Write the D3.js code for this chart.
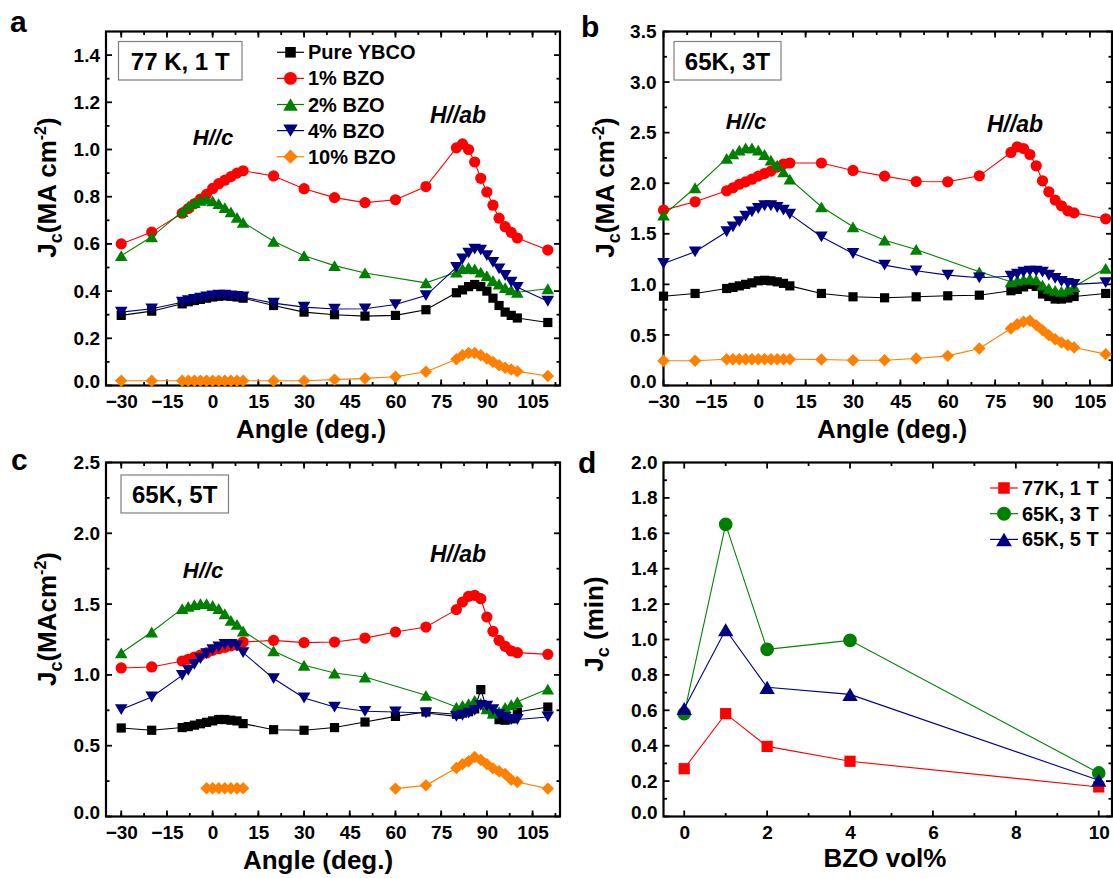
<!DOCTYPE html>
<html><head><meta charset="utf-8">
<script src="https://cdn.jsdelivr.net/npm/d3@7"></script>
<style>
html,body{margin:0;padding:0;background:#fff;}
svg{display:block;}
</style></head>
<body>
<svg id="chart" width="1113" height="878"></svg>
<script>
// ---------------- DATA ----------------
const angles = [-30,-20,-10,-8,-6,-4,-2,0,2,4,6,8,10,20,30,40,50,60,70,80,82,84,86,88,90,92,94,96,98,100,110];
const seriesNames = ["Pure YBCO","1% BZO","2% BZO","4% BZO","10% BZO"];

// panel a: 77 K, 1 T
const aPure = [0.297,0.315,0.346,0.355,0.36,0.365,0.37,0.375,0.378,0.38,0.378,0.375,0.37,0.339,0.311,0.300,0.294,0.297,0.321,0.393,0.405,0.419,0.428,0.419,0.40,0.37,0.339,0.311,0.297,0.286,0.267];
const aBZO1 = [0.60,0.65,0.73,0.75,0.77,0.79,0.81,0.835,0.855,0.87,0.885,0.90,0.91,0.888,0.834,0.796,0.775,0.787,0.843,1.007,1.024,1.000,0.947,0.878,0.820,0.764,0.709,0.673,0.649,0.625,0.574];
const aBZO2 = [0.550,0.630,0.737,0.76,0.775,0.785,0.79,0.782,0.771,0.754,0.736,0.712,0.691,0.611,0.550,0.508,0.477,null,0.435,0.48,0.495,0.50,0.494,0.48,0.465,0.445,0.43,0.415,0.405,0.395,0.41];
const aBZO4 = [0.311,0.325,0.353,0.36,0.365,0.37,0.375,0.38,0.383,0.383,0.38,0.378,0.375,0.349,0.332,0.324,0.325,0.343,0.381,0.50,0.536,0.561,0.578,0.574,0.55,0.522,0.494,0.466,0.438,0.416,0.357];
const aBZO10 = [0.02,0.02,0.02,0.02,0.02,0.02,0.02,0.02,0.02,0.02,0.02,0.02,0.02,0.02,0.02,0.025,0.03,0.037,0.058,0.111,0.128,0.138,0.138,0.128,0.114,0.10,0.086,0.075,0.068,0.06,0.04];

// panel b: 65 K, 3 T
const bPure = [0.883,0.91,0.959,0.97,0.985,1.0,1.015,1.035,1.04,1.035,1.025,1.01,0.985,0.91,0.877,0.867,0.877,0.887,0.893,0.937,0.95,0.975,1.00,0.98,0.905,0.88,0.855,0.855,0.865,0.88,0.91];
const bBZO1 = [1.734,1.816,1.925,1.955,1.99,2.014,2.04,2.07,2.096,2.12,2.16,2.19,2.20,2.20,2.126,2.07,2.017,2.014,2.073,2.304,2.36,2.343,2.284,2.172,2.024,1.915,1.833,1.777,1.727,1.707,1.648];
const bBZO2 = [1.684,1.955,2.245,2.29,2.327,2.35,2.35,2.327,2.284,2.228,2.179,2.113,2.04,1.767,1.569,1.437,1.345,null,1.124,1.026,1.04,1.05,1.058,1.045,0.993,0.96,0.94,0.93,0.95,0.977,1.159];
const bBZO4 = [1.206,1.322,1.52,1.569,1.62,1.674,1.717,1.75,1.777,1.777,1.76,1.734,1.694,1.47,1.305,1.19,1.134,1.091,1.065,1.08,1.10,1.12,1.13,1.13,1.12,1.09,1.06,1.03,1.01,1.00,1.017];
const bBZO10 = [0.244,0.244,0.26,0.26,0.26,0.26,0.26,0.26,0.26,0.26,0.26,0.26,0.26,0.257,0.25,0.25,0.267,0.293,0.366,0.564,0.606,0.63,0.64,0.597,0.547,0.498,0.458,0.425,0.40,0.376,0.31];

// panel c: 65 K, 5 T
const cPure = [0.625,0.609,0.628,0.635,0.645,0.655,0.665,0.675,0.685,0.685,0.68,0.675,0.656,0.613,0.609,0.628,0.667,0.707,0.738,0.722,0.73,0.74,0.76,0.896,0.76,0.726,0.684,0.68,0.69,0.738,0.773];
const cBZO1 = [1.049,1.056,1.098,1.11,1.126,1.14,1.155,1.173,1.185,1.195,1.205,1.21,1.232,1.244,1.228,1.232,1.26,1.303,1.338,1.461,1.515,1.555,1.562,1.538,1.409,1.308,1.244,1.202,1.169,1.157,1.145];
const cBZO2 = [1.155,1.303,1.468,1.484,1.496,1.503,1.503,1.49,1.468,1.432,1.385,1.357,1.31,1.169,1.068,1.013,0.985,null,0.856,0.773,0.785,0.797,0.82,0.80,0.76,0.73,0.74,0.77,0.79,0.81,0.90];
const cBZO4 = [0.755,0.844,0.997,1.032,1.075,1.115,1.15,1.178,1.197,1.216,1.216,1.204,1.157,0.974,0.837,0.773,0.743,0.738,0.731,0.707,0.715,0.73,0.75,0.785,0.78,0.755,0.72,0.70,0.684,0.685,0.703];
const cBZO10 = [null,null,null,null,null,null,0.2,0.2,0.2,0.2,0.2,0.2,0.2,null,null,null,null,0.197,0.22,0.343,0.37,0.39,0.42,0.40,0.37,0.34,0.32,0.30,0.26,0.244,0.197];

// panel d: minimum Jc vs BZO content
const bzoVol = [0,1,2,4,10];
const dNames = ["77K, 1 T","65K, 3 T","65K, 5 T"];
const d77K1T = [0.27,0.581,0.396,0.312,0.167];
const d65K3T = [0.581,1.65,0.944,0.995,0.246];
const d65K5T = [0.61,1.055,0.73,0.69,0.205];

const angleTicks = [-30,-15,0,15,30,45,60,75,90,105];
const aYTicks = [0,0.2,0.4,0.6,0.8,1.0,1.2,1.4];
const bYTicks = [0,0.5,1.0,1.5,2.0,2.5,3.0,3.5];
const cYTicks = [0,0.5,1.0,1.5,2.0,2.5];
const dYTicks = [0,0.2,0.4,0.6,0.8,1.0,1.2,1.4,1.6,1.8,2.0];
const dXTicks = [0,2,4,6,8,10];

// ---------------- STYLE ----------------
const FONT = "'Liberation Sans', Arial, Helvetica, sans-serif";
const COLORS = ["#000000","#ff0000","#008000","#000080","#ff8000"];
const SYMS = ["square","circle","triUp","triDown","diamond"];
const MAX_GAP = 25; // larger gaps in angle = no measurement run, line is broken
const svg = d3.select("#chart");

function symPath(type, k) {
  k = k || 1;
  if (type === "square") { const h = 4.6*k; return `M${-h},${-h}h${2*h}v${2*h}h${-2*h}Z`; }
  if (type === "circle") { const r = 5.6*k; return `M${r},0A${r},${r} 0 1,1 ${-r},0A${r},${r} 0 1,1 ${r},0Z`; }
  if (type === "triUp") { const w = 6.3*k, h = 5.4*k; return `M0,${-h}L${w},${h}L${-w},${h}Z`; }
  if (type === "triDown") { const w = 6.3*k, h = 5.4*k; return `M0,${h}L${w},${-h}L${-w},${-h}Z`; }
  if (type === "diamond") { const r = 6.2*k; return `M0,${-r}L${r},0L0,${r}L${-r},0Z`; }
}

function frame(g, x, y, xTicks, xMinor, yTicks, yMinor, yFmt, ypad) {
  const [x0,x1] = x.range(), [y0,y1] = y.range();
  const tk = g.append("g").attr("stroke","#000").attr("stroke-width",1.8);
  const maj = 6, mino = 3.5;
  xTicks.forEach(v => { const px = x(v);
    tk.append("line").attr("x1",px).attr("x2",px).attr("y1",y0).attr("y2",y0-maj);
    tk.append("line").attr("x1",px).attr("x2",px).attr("y1",y1).attr("y2",y1+maj); });
  xMinor.forEach(v => { const px = x(v); if (px<=x0+1||px>=x1-1) return;
    tk.append("line").attr("x1",px).attr("x2",px).attr("y1",y0).attr("y2",y0-mino);
    tk.append("line").attr("x1",px).attr("x2",px).attr("y1",y1).attr("y2",y1+mino); });
  yTicks.forEach(v => { const py = y(v);
    tk.append("line").attr("x1",x0).attr("x2",x0+maj).attr("y1",py).attr("y2",py);
    tk.append("line").attr("x1",x1).attr("x2",x1-maj).attr("y1",py).attr("y2",py); });
  yMinor.forEach(v => { const py = y(v); if (py>=y0-1||py<=y1+1) return;
    tk.append("line").attr("x1",x0).attr("x2",x0+mino).attr("y1",py).attr("y2",py);
    tk.append("line").attr("x1",x1).attr("x2",x1-mino).attr("y1",py).attr("y2",py); });
  g.append("rect").attr("x",x0).attr("y",y1).attr("width",x1-x0).attr("height",y0-y1)
    .attr("fill","none").attr("stroke","#000").attr("stroke-width",2.2);
  const ax = g.append("g").attr("transform",`translate(0,${y0})`)
    .call(d3.axisBottom(x).tickValues(xTicks).tickSize(0).tickPadding(9).tickFormat(d3.format("d")));
  const ay = g.append("g").attr("transform",`translate(${x0},0)`)
    .call(d3.axisLeft(y).tickValues(yTicks).tickSize(0).tickPadding(ypad || 6).tickFormat(d3.format(yFmt)));
  [ax,ay].forEach(a => { a.select(".domain").remove();
    a.selectAll("text").attr("font-family",FONT).attr("font-weight","bold").attr("font-size",19).attr("fill","#000"); });
  // lift the zero label of the y axis slightly so it clears the first x label
  ay.selectAll(".tick").filter(d => d === 0).select("text").attr("dy","0.1em");
}

function drawSeries(g, x, y, xs, vals, color, sym, k) {
  const pts = xs.map((a,i) => ({a, v: vals[i]})).filter(d => d.v !== null);
  const runs = [];
  pts.forEach((d,i) => {
    if (i === 0 || d.a - pts[i-1].a > MAX_GAP) runs.push([]);
    runs[runs.length-1].push(d);
  });
  const line = d3.line().x(d => x(d.a)).y(d => y(d.v));
  runs.forEach(r => g.append("path").datum(r).attr("d",line).attr("fill","none").attr("stroke",color).attr("stroke-width",1.1));
  g.selectAll(null).data(pts).enter().append("path")
    .attr("d", symPath(sym,k)).attr("transform", d => `translate(${x(d.a)},${y(d.v)})`).attr("fill",color);
}

function yTitle(parts, cx, cy) {
  const t = svg.append("text").attr("transform",`translate(${cx},${cy}) rotate(-90)`)
    .attr("text-anchor","middle").attr("font-family",FONT).attr("font-weight","bold").attr("font-size",26);
  parts.forEach(p => t.append("tspan").text(p.t).attr("font-size",p.fs||26).attr("dy",p.dy||0));
}
function text(s, x, y, fs, opts) {
  opts = opts || {};
  return svg.append("text").attr("x",x).attr("y",y).text(s).attr("font-family",FONT).attr("font-weight","bold")
    .attr("font-style",opts.italic?"italic":"normal").attr("font-size",fs).attr("text-anchor",opts.anchor||"middle");
}
function box(s, x, y, w, h, tx, ty) {
  svg.append("rect").attr("x",x).attr("y",y).attr("width",w).attr("height",h).attr("fill","#fff").attr("stroke","#7f7f7f").attr("stroke-width",1.2);
  text(s, tx, ty, 24);
}
const jcParts = (mid) => [{t:"J"},{t:"c",fs:18,dy:6},{t:mid,dy:-6},{t:"-2",fs:16,dy:-10},{t:")",dy:10}];

// ---------------- PANELS ----------------
const angleMinor = d3.range(-37.5, 120, 7.5);
function anglePanel(xr, xd, yr, yd, yTicks, yMinor, data, ypad) {
  const x = d3.scaleLinear().domain(xd).range(xr);
  const y = d3.scaleLinear().domain(yd).range(yr);
  const g = svg.append("g");
  frame(g, x, y, angleTicks, angleMinor, yTicks, yMinor, ".1f", ypad);
  data.forEach((vals,i) => drawSeries(g, x, y, angles, vals, COLORS[i], SYMS[i], 1));
}

anglePanel([106,560],[-35,114],[385.5,31.5],[0,1.5], aYTicks, d3.range(0.1,1.5,0.2), [aPure,aBZO1,aBZO2,aBZO4,aBZO10]);
anglePanel([663.5,1112],[-30,112],[385.5,31.5],[0,3.5], bYTicks, d3.range(0.25,3.5,0.5), [bPure,bBZO1,bBZO2,bBZO4,bBZO10], 7);
anglePanel([106,560],[-35,114],[816.5,462.5],[0,2.5], cYTicks, d3.range(0.25,2.5,0.5), [cPure,cBZO1,cBZO2,cBZO4,cBZO10]);

// panel d
{
  const x = d3.scaleLinear().domain([-0.5,10.32]).range([663.5,1112]);
  const y = d3.scaleLinear().domain([0,2]).range([816.5,462.5]);
  const g = svg.append("g");
  frame(g, x, y, dXTicks, [1,3,5,7,9], dYTicks, d3.range(0.1,2,0.2), ".1f");
  const dCols = ["#ff0000","#008000","#000080"], dSyms = ["square","circle","triUp"];
  [d77K1T,d65K3T,d65K5T].forEach((vals,i) => drawSeries(g, x, y, bzoVol, vals, dCols[i], dSyms[i], 1.22));
  dNames.forEach((n,i) => {
    const ry = 488 + i*25.7;
    svg.append("line").attr("x1",990).attr("x2",1018).attr("y1",ry).attr("y2",ry).attr("stroke",dCols[i]).attr("stroke-width",1.2);
    svg.append("path").attr("d",symPath(dSyms[i],1.25)).attr("transform",`translate(1004,${ry})`).attr("fill",dCols[i]);
    text(n, 1022, ry+7, 20, {anchor:"start"});
  });
}

// legend panel a
seriesNames.forEach((n,i) => {
  const ry = 52.3 + i*26.1;
  svg.append("line").attr("x1",277).attr("x2",304).attr("y1",ry).attr("y2",ry).attr("stroke",COLORS[i]).attr("stroke-width",1.2);
  svg.append("path").attr("d",symPath(SYMS[i],1.15)).attr("transform",`translate(290.5,${ry})`).attr("fill",COLORS[i]);
  text(n, 308, ry+7, 20, {anchor:"start"});
});

box("77 K, 1 T", 118.5, 41.5, 123.5, 38.5, 180.2, 70);
box("65K, 3T", 674, 41.5, 107, 38.5, 727.5, 70);
box("65K, 5T", 121, 475, 107.5, 38, 174.7, 503);

text("H//c", 213, 145, 22, {italic:true});
text("H//ab", 458, 123, 23, {italic:true});
text("H//c", 746, 129, 22, {italic:true});
text("H//ab", 1015, 132, 23, {italic:true});
text("H//c", 203, 578, 22, {italic:true});
text("H//ab", 458, 562, 23, {italic:true});

text("a", 10, 32, 30, {anchor:"start"});
text("b", 581, 37, 30, {anchor:"start"});
text("c", 11, 470, 30, {anchor:"start"});
text("d", 578, 473, 30, {anchor:"start"});

text("Angle (deg.)", 311, 438, 26);
text("Angle (deg.)", 892, 438, 26);
text("Angle (deg.)", 318, 869, 26);
text("BZO vol%", 885, 867, 26);
yTitle(jcParts("(MA cm"), 56, 187.5);
yTitle(jcParts("(MA cm"), 614, 187.5);
yTitle(jcParts("(MAcm"), 56, 619);
yTitle([{t:"J"},{t:"c",fs:18,dy:6},{t:" (min)",dy:-6}], 603, 624);
</script>
</body></html>
